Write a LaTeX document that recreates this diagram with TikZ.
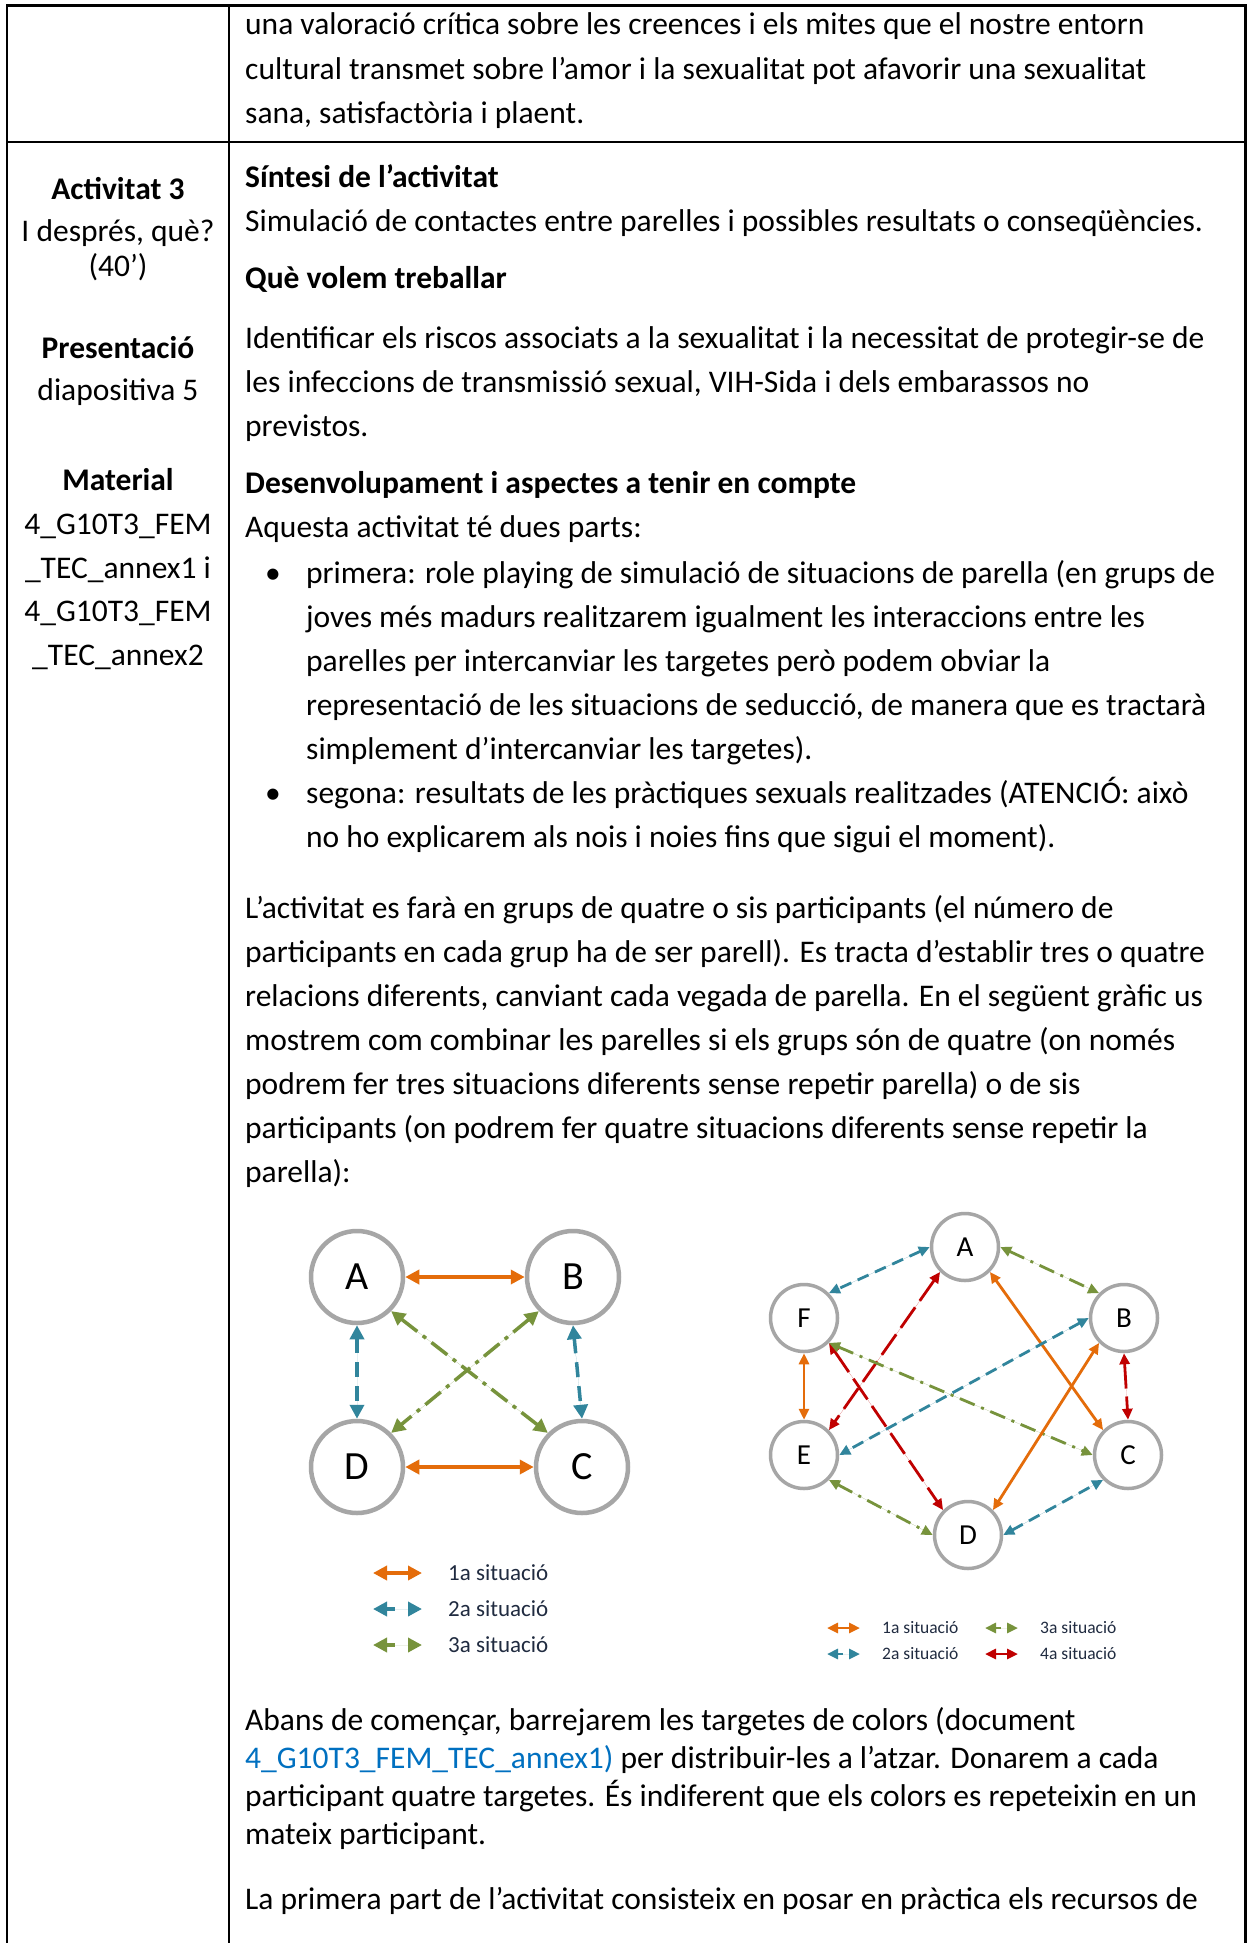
\documentclass[tikz,border=0pt]{standalone}
\usepackage{fontspec}
\setmainfont{Carlito}
\usetikzlibrary{arrows.meta}
\definecolor{orng}{HTML}{E46C0A}
\definecolor{teal2}{HTML}{31859C}
\definecolor{olive2}{HTML}{77933C}
\definecolor{red2}{HTML}{C00000}
\definecolor{circgrey}{HTML}{A6A6A6}
\definecolor{linkblue}{HTML}{0070C0}
\definecolor{legtext}{HTML}{202B40}
\tikzset{
  tx/.style={anchor=base west, inner sep=0pt, font=\fontsize{31.5}{38}\selectfont},
  txb/.style={anchor=base west, inner sep=0pt, font=\fontsize{31.5}{38}\selectfont\bfseries},
  bul/.style={anchor=base, inner sep=0pt, font=\fontsize{31.5}{38}\selectfont},
  lc/.style={anchor=base, inner sep=0pt, font=\fontsize{31.5}{38}\selectfont},
  lcb/.style={anchor=base, inner sep=0pt, font=\fontsize{31.5}{38}\selectfont\bfseries},
  rule/.style={line width=2.2pt, black},
  lcirc/.style={circle, draw=circgrey, line width=4.5pt, fill=white, minimum size=92pt, inner sep=0pt, font=\fontsize{40}{40}\selectfont},
  rcirc/.style={circle, draw=circgrey, line width=3.5pt, fill=white, minimum size=67pt, inner sep=0pt, font=\fontsize{29}{29}\selectfont},
  ltip/.style={{Triangle[length=14pt,width=14pt]}-{Triangle[length=14pt,width=14pt]}},
  rtip/.style={{Triangle[length=11pt,width=10pt]}-{Triangle[length=11pt,width=10pt]}},
  lsol/.style={ltip, draw=orng, fill=orng, line width=4pt},
  ldash/.style={ltip, draw=teal2, fill=teal2, line width=3.5pt, dash pattern=on 15pt off 9pt},
  ldot/.style={ltip, draw=olive2, fill=olive2, line width=3.5pt, dash pattern=on 20pt off 7pt on 4pt off 7pt},
  rsol/.style={rtip, draw=orng, fill=orng, line width=2.8pt},
  rdash/.style={rtip, draw=teal2, fill=teal2, line width=2.8pt, dash pattern=on 12pt off 7pt},
  rdot/.style={rtip, draw=olive2, fill=olive2, line width=2.8pt, dash pattern=on 16pt off 7pt on 3pt off 7pt},
  rlong/.style={rtip, draw=red2, fill=red2, line width=2.8pt, dash pattern=on 25pt off 8pt},
  legl/.style={anchor=west, inner sep=0pt, text=legtext, font=\fontsize{23}{23}\selectfont},
  legr/.style={anchor=west, inner sep=0pt, text=legtext, font=\fontsize{17.5}{17.5}\selectfont},
}
\begin{document}
\begin{tikzpicture}[x=1pt,y=-1pt]
\useasboundingbox (0,0) rectangle (1247,1943);
\fill[white] (0,0) rectangle (1247,1943);
% table rules
\draw[rule] (7.3,1943) -- (7.3,5.5) -- (1245.5,5.5) -- (1245.5,1943);
\draw[rule] (229,5.5) -- (229,1943);
\draw[rule] (7.3,142) -- (1245.5,142);

% top row
\node[tx] (t01) at (245,35) {una valoració crítica sobre les creences i els mites que el nostre entorn};
\node[tx] (t02) at (245,79) {cultural transmet sobre l’amor i la sexualitat pot afavorir una sexualitat};
\node[tx] (t03) at (245,123) {sana, satisfactòria i plaent.};

% left column
\node[lcb] (l01) at (118,199) {Activitat 3};
\node[lc] (l02) at (118,241) {I després, què?};
\node[lc] (l03) at (118,276) {(40’)};
\node[lcb] (l04) at (118,358) {Presentació};
\node[lc] (l05) at (118,400) {diapositiva 5};
\node[lcb] (l06) at (118,490) {Material};
\node[lc] (l07) at (118,534) {4\_G10T3\_FEM};
\node[lc] (l08) at (118,578) {\_TEC\_annex1 i};
\node[lc] (l09) at (118,621) {4\_G10T3\_FEM};
\node[lc] (l10) at (118,665) {\_TEC\_annex2};

% right column
\node[txb] (r01) at (245,187) {Síntesi de l’activitat};
\node[tx] (r02) at (245,231) {Simulació de contactes entre parelles i possibles resultats o conseqüències.};
\node[txb] (r03) at (245,288) {Què volem treballar};
\node[tx] (r04) at (245,348) {Identificar els riscos associats a la sexualitat i la necessitat de protegir-se de};
\node[tx] (r05) at (245,392) {les infeccions de transmissió sexual, VIH-Sida i dels embarassos no};
\node[tx] (r06) at (245,436) {previstos.};
\node[txb] (r07) at (245,493) {Desenvolupament i aspectes a tenir en compte};
\node[tx] (r08) at (245,537) {Aquesta activitat té dues parts:};
\node[bul] (b01) at (273,583) {•};
\node[tx] (r09) at (306,583) {primera: role playing de simulació de situacions de parella (en grups de};
\node[tx] (r10) at (306,627) {joves més madurs realitzarem igualment les interaccions entre les};
\node[tx] (r11) at (306,671) {parelles per intercanviar les targetes però podem obviar la};
\node[tx] (r12) at (306,715) {representació de les situacions de seducció, de manera que es tractarà};
\node[tx] (r13) at (306,759) {simplement d’intercanviar les targetes).};
\node[bul] (b02) at (273,803) {•};
\node[tx] (r14) at (306,803) {segona: resultats de les pràctiques sexuals realitzades (ATENCIÓ: això};
\node[tx] (r15) at (306,847) {no ho explicarem als nois i noies fins que sigui el moment).};
\node[tx] (r16) at (245,918) {L’activitat es farà en grups de quatre o sis participants (el número de};
\node[tx] (r17) at (245,962) {participants en cada grup ha de ser parell). Es tracta d’establir tres o quatre};
\node[tx] (r18) at (245,1006) {relacions diferents, canviant cada vegada de parella. En el següent gràfic us};
\node[tx] (r19) at (245,1050) {mostrem com combinar les parelles si els grups són de quatre (on només};
\node[tx] (r20) at (245,1094) {podrem fer tres situacions diferents sense repetir parella) o de sis};
\node[tx] (r21) at (245,1138) {participants (on podrem fer quatre situacions diferents sense repetir la};
\node[tx] (r22) at (245,1182) {parella):};
\node[tx] (r23) at (245,1730) {Abans de començar, barrejarem les targetes de colors (document};
\node[tx] (r24) at (245,1768) {\textcolor{linkblue}{4\_G10T3\_FEM\_TEC\_annex1)} per distribuir-les a l’atzar. Donarem a cada};
\node[tx] (r25) at (245,1806) {participant quatre targetes. És indiferent que els colors es repeteixin en un};
\node[tx] (r26) at (245,1844) {mateix participant.};
\node[tx] (r27) at (245,1909) {La primera part de l’activitat consisteix en posar en pràctica els recursos de};

% left diagram
\node[lcirc] (lA) at (357,1277) {A};
\node[lcirc] (lB) at (573,1277) {B};
\node[lcirc] (lD) at (357,1467) {D};
\node[lcirc] (lC) at (582,1467) {C};
\draw[lsol] (lA.east) -- (lB.west);
\draw[lsol] (lD.east) -- (lC.west);
\draw[ldash] (lA.south) -- (lD.north);
\draw[ldash] (lB.south) -- (lC.north);
\draw[ldot] (lA.south east) -- (lC.north west);
\draw[ldot] (lB.south west) -- (lD.north east);
% left legend
\coordinate (ll1a) at (373,1573); \coordinate (ll1b) at (422,1573);
\coordinate (ll2a) at (373,1609); \coordinate (ll2b) at (422,1609);
\coordinate (ll3a) at (373,1645); \coordinate (ll3b) at (422,1645);
\draw[lsol] (ll1a) -- (ll1b);
\draw[ltip, draw=teal2, fill=teal2, line width=3.5pt, dash pattern=on 9pt off 30pt] (ll2a) -- (ll2b);
\draw[ltip, draw=olive2, fill=olive2, line width=3.5pt, dash pattern=on 9pt off 30pt] (ll3a) -- (ll3b);
\node[legl] (lt1) at (448,1573) {1a situació};
\node[legl] (lt2) at (448,1609) {2a situació};
\node[legl] (lt3) at (448,1645) {3a situació};

% right diagram
\node[rcirc] (rA) at (965,1247) {A};
\node[rcirc] (rF) at (804,1318) {F};
\node[rcirc] (rB) at (1124,1318) {B};
\node[rcirc] (rE) at (804,1455) {E};
\node[rcirc] (rC) at (1128,1455) {C};
\node[rcirc] (rD) at (968,1535) {D};
\draw[rdash] (rA.west) -- (rF.north east);
\draw[rdot] (rA.east) -- (rB.north west);
\draw[rlong] (rA.south west) -- (rE.north east);
\draw[rsol] (rA.south east) -- (rC.north west);
\draw[rsol] (rF.south) -- (rE.north);
\draw[rlong] (rF.south east) -- (rD.north west);
\draw[rdot] (rF.south east) -- (rC.west);
\draw[rdash] (rB.west) -- (rE.east);
\draw[rsol] (rB.south west) -- (rD.north east);
\draw[rlong] (rB.south) -- (rC.north);
\draw[rdot] (rE.south east) -- (rD.west);
\draw[rdash] (rD.east) -- (rC.south west);
% right legend
\coordinate (rl1a) at (827,1628); \coordinate (rl1b) at (860,1628);
\coordinate (rl2a) at (827,1654); \coordinate (rl2b) at (860,1654);
\coordinate (rl3a) at (985,1628); \coordinate (rl3b) at (1018,1628);
\coordinate (rl4a) at (985,1654); \coordinate (rl4b) at (1018,1654);
\draw[rsol] (rl1a) -- (rl1b);
\draw[rtip, draw=teal2, fill=teal2, line width=2.8pt, dash pattern=on 6pt off 20pt] (rl2a) -- (rl2b);
\draw[rtip, draw=olive2, fill=olive2, line width=2.8pt, dash pattern=on 6pt off 20pt] (rl3a) -- (rl3b);
\draw[rtip, draw=red2, fill=red2, line width=2.8pt] (rl4a) -- (rl4b);
\node[legr] (rt1) at (882,1628) {1a situació};
\node[legr] (rt2) at (882,1654) {2a situació};
\node[legr] (rt3) at (1040,1628) {3a situació};
\node[legr] (rt4) at (1040,1654) {4a situació};
\end{tikzpicture}
\end{document}
